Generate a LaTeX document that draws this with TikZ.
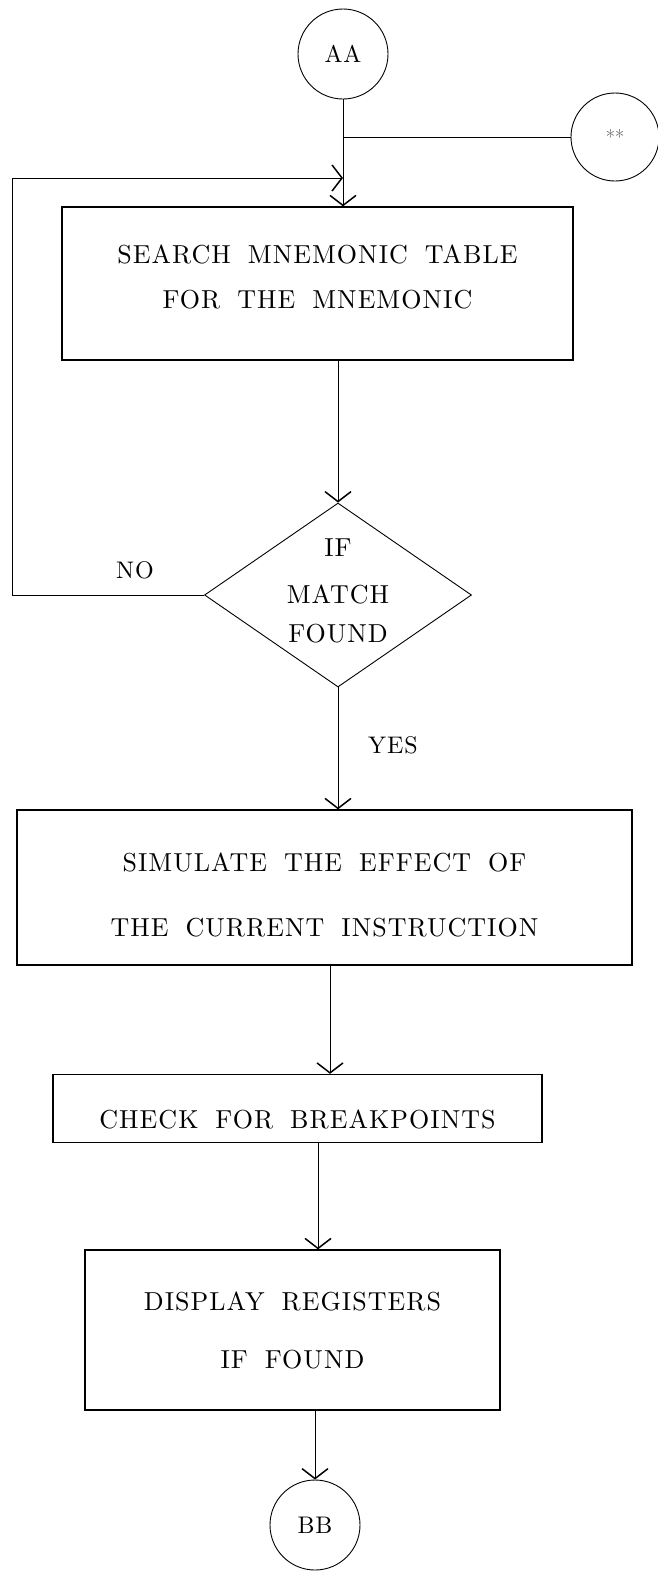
\documentclass[tikz,border=0pt]{standalone}
\usepackage{fontspec}
\newfontfamily\labelfont{lmroman10}[Extension=.otf, UprightFont=*-regular, LetterSpace=4]
\newcommand\widewords{\spaceskip=17pt plus 2pt minus 1pt\relax}
\usetikzlibrary{shapes.geometric,arrows.meta}
\begin{document}
\begin{tikzpicture}[x=1pt,y=-1pt,
  txt/.style={font=\labelfont\fontsize{26}{45}\selectfont\widewords, align=center},
  procbox/.style={draw, line width=1.3pt, rectangle, inner sep=0pt, txt},
  conn/.style={draw, circle, line width=0.9pt, inner sep=0pt, minimum size=90pt},
  decision/.style={draw, diamond, line width=0.9pt, inner sep=0pt},
  flow/.style={line width=0.8pt, -{Straight Barb[length=10pt,width=26pt,line width=1.5pt]}},
  plain/.style={line width=0.8pt},
  tag/.style={font=\labelfont\fontsize{24}{26}\selectfont}]
\useasboundingbox (0,0) rectangle (658,1572);

% connectors at the top and bottom
\node[conn, tag] (aa) at (343,54) {AA};
\node[conn, minimum size=88pt, font=\fontsize{20}{20}\selectfont, text=black!70] (star) at (615,137) {**};
\node[conn, tag] (bb) at (315,1525) {BB};

% process boxes
\node[procbox, minimum width=511pt, minimum height=153pt, text depth=14pt] (search) at (317.5,283.5)
  {SEARCH MNEMONIC TABLE\\FOR THE MNEMONIC};
\node[decision, minimum width=267pt, minimum height=184pt] (match) at (338,595) {};
\node[txt] (matchtxt) at (338,591) {IF\\[2pt]MATCH\\[-6pt]FOUND};
\node[procbox, minimum width=615pt, minimum height=155pt] (sim) at (324.5,887.5) {};
\node[txt] (simtxt) at (324.5,894.5)
  {SIMULATE THE EFFECT OF\\[20pt]THE CURRENT INSTRUCTION};
\node[procbox, minimum width=489pt, minimum height=68pt, text height=40pt] (check) at (297.5,1108.5)
  {CHECK FOR BREAKPOINTS};
\node[procbox, minimum width=415pt, minimum height=160pt] (disp) at (292.5,1330)
  {DISPLAY REGISTERS\\[13pt]IF FOUND};

% junction points on the entry line, and the x of the loop
\coordinate (j0) at (343,137);
\coordinate (j1) at (343,178);
\coordinate (loopx) at (12,0);

% entry from AA, side entry from **, and the retry loop
\draw[flow] (aa.south) -- (search.north -| aa.south);
\draw[plain] (j0) -- (star.west);
\draw[flow] (match.west) -- (match.west -| loopx) |- (j1);
\node[tag] (no) at (135,570) {NO};

% main flow
\draw[flow] (search.south -| match.north) -- (match.north);
\draw[flow] (match.south) -- (sim.north -| match.south);
\node[tag] (yes) at (393,745) {YES};
\draw[flow] (sim.south -| 330,0) -- (check.north -| 330,0);
\draw[flow] (check.south -| 318,0) -- (disp.north -| 318,0);
\draw[flow] (disp.south -| bb.north) -- (bb.north);
\end{tikzpicture}
\end{document}
